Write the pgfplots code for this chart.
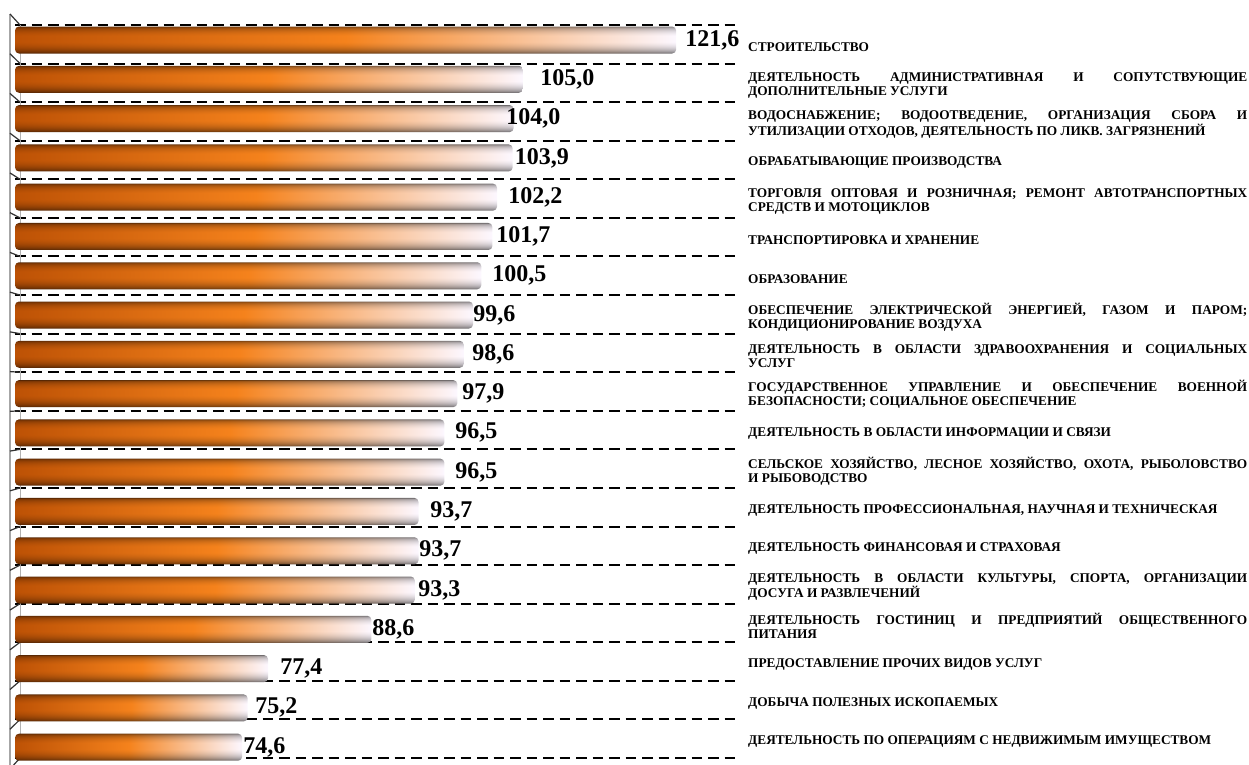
\documentclass[border=0pt]{standalone}
\usepackage{fontspec}
\setmainfont{Liberation Serif}
\usepackage{pgfplots}
\usepackage{pgfplotstable}
\pgfplotsset{compat=1.18}

\pgfdeclarefunctionalshading{cyl}{\pgfpoint{0bp}{0bp}}{\pgfpoint{100bp}{100bp}}{}{
  25 sub 50 div
  dup 0 lt {pop 0} if dup 1 gt {pop 1} if
  dup 180 mul sin abs sqrt 0.64 mul 0.30 add exch 0.15 mul add
  dup 1 gt {pop 1} if
  exch
  25 sub 50 div
  dup 0 lt {pop 0} if dup 1 gt {pop 1} if
  dup 0.5 lt
   { 2 mul dup 0.22 mul 0.74 add exch dup 0.19 mul 0.32 add exch 0.09 mul 0.02 add }
   { 2 mul 1 sub dup 0.03 mul 0.96 add exch dup 0.46 mul 0.51 add exch 0.89 mul 0.11 add }
  ifelse
  4 -1 roll
  dup 5 -1 roll mul
  4 1 roll
  dup 4 -1 roll mul
  3 1 roll
  mul
}

\newcommand\labfont{\bfseries\fontsize{13.3}{14}\selectfont\tolerance=9999 }
\newcommand\valfont{\bfseries\fontsize{24}{26}\selectfont}

\pgfplotstableread{
y v lx lab
-0.110 121.6 122.57 121,6
0.908 105.0 106.88 105,0
1.927 104.0 103.20 104,0
2.945 103.9 104.10 103,9
3.963 102.2 103.41 102,2
4.982 101.7 102.12 101,7
6.000 100.5 101.68 100,5
7.018 99.6 99.62 99,6
8.036 98.6 99.52 98,6
9.055 97.9 98.43 97,9
10.073 96.5 97.68 96,5
11.091 96.5 97.68 96,5
12.110 93.7 94.97 93,7
13.128 93.7 93.77 93,7
14.146 93.3 93.67 93,3
15.165 88.6 88.67 88,6
16.183 77.4 78.72 77,4
17.201 75.2 76.01 75,2
18.220 74.6 74.71 74,6
}\datatable

\begin{document}
\begin{tikzpicture}
\useasboundingbox (-15pt,-6pt) rectangle (1234pt,758pt);
\begin{axis}[
  at={(0,0)}, anchor=south west,
  x=9.234pt, y=38.58pt,
  xmin=0, xmax=78.3,
  ymin=-0.5, ymax=18.5,
  y dir=reverse,
  clip=false,
  axis line style={draw=none},
  xtick=\empty,
  ytick={0,1,...,18},
  minor ytick={-0.5,0.5,...,18.5},
  yminorgrids=true,
  minor grid style={black, line width=2pt, dash pattern=on 10.5pt off 6pt},
  major tick length=0pt, minor tick length=0pt,
  yticklabel pos=right,
  yticklabels={
    {СТРОИТЕЛЬСТВО},
    {ДЕЯТЕЛЬНОСТЬ АДМИНИСТРАТИВНАЯ И СОПУТСТВУЮЩИЕ\linebreak ДОПОЛНИТЕЛЬНЫЕ УСЛУГИ},
    {ВОДОСНАБЖЕНИЕ; ВОДООТВЕДЕНИЕ, ОРГАНИЗАЦИЯ СБОРА И\linebreak УТИЛИЗАЦИИ ОТХОДОВ, ДЕЯТЕЛЬНОСТЬ ПО ЛИКВ. ЗАГРЯЗНЕНИЙ},
    {ОБРАБАТЫВАЮЩИЕ ПРОИЗВОДСТВА},
    {ТОРГОВЛЯ ОПТОВАЯ И РОЗНИЧНАЯ; РЕМОНТ АВТОТРАНСПОРТНЫХ\linebreak СРЕДСТВ И МОТОЦИКЛОВ},
    {ТРАНСПОРТИРОВКА И ХРАНЕНИЕ},
    {ОБРАЗОВАНИЕ},
    {ОБЕСПЕЧЕНИЕ ЭЛЕКТРИЧЕСКОЙ ЭНЕРГИЕЙ, ГАЗОМ И ПАРОМ;\linebreak КОНДИЦИОНИРОВАНИЕ ВОЗДУХА},
    {ДЕЯТЕЛЬНОСТЬ В ОБЛАСТИ ЗДРАВООХРАНЕНИЯ И СОЦИАЛЬНЫХ\linebreak УСЛУГ},
    {ГОСУДАРСТВЕННОЕ УПРАВЛЕНИЕ И ОБЕСПЕЧЕНИЕ ВОЕННОЙ\linebreak БЕЗОПАСНОСТИ; СОЦИАЛЬНОЕ ОБЕСПЕЧЕНИЕ},
    {ДЕЯТЕЛЬНОСТЬ В ОБЛАСТИ ИНФОРМАЦИИ И СВЯЗИ},
    {СЕЛЬСКОЕ ХОЗЯЙСТВО, ЛЕСНОЕ ХОЗЯЙСТВО, ОХОТА, РЫБОЛОВСТВО\linebreak И РЫБОВОДСТВО},
    {ДЕЯТЕЛЬНОСТЬ ПРОФЕССИОНАЛЬНАЯ, НАУЧНАЯ И ТЕХНИЧЕСКАЯ},
    {ДЕЯТЕЛЬНОСТЬ ФИНАНСОВАЯ И СТРАХОВАЯ},
    {ДЕЯТЕЛЬНОСТЬ В ОБЛАСТИ КУЛЬТУРЫ, СПОРТА, ОРГАНИЗАЦИИ\linebreak ДОСУГА И РАЗВЛЕЧЕНИЙ},
    {ДЕЯТЕЛЬНОСТЬ ГОСТИНИЦ И ПРЕДПРИЯТИЙ ОБЩЕСТВЕННОГО\linebreak ПИТАНИЯ},
    {ПРЕДОСТАВЛЕНИЕ ПРОЧИХ ВИДОВ УСЛУГ},
    {ДОБЫЧА ПОЛЕЗНЫХ ИСКОПАЕМЫХ},
    {ДЕЯТЕЛЬНОСТЬ ПО ОПЕРАЦИЯМ С НЕДВИЖИМЫМ ИМУЩЕСТВОМ}
  },
  yticklabel style={anchor=west, inner sep=0pt, xshift=10pt, yshift=-3pt, text width=499pt, align=justify, font=\labfont},
]
% 3D wall edges
\draw[gray!60, line width=0.8pt] ([xshift=5pt]axis cs:0,-0.5) -- ([xshift=5pt]axis cs:0,18.5);
\draw[gray!70, line width=1.4pt] ([xshift=-5pt,yshift=11pt]axis cs:0,-0.5) -- ([xshift=-5pt,yshift=-11pt]axis cs:0,18.5);
\pgfplotsinvokeforeach{-0.5,0.5,...,18.5}{
  \draw[black!80, line width=1.2pt] ([xshift=5pt]axis cs:0,#1) -- ++(-10pt,{-0.03*(25+(#1+0.5)*38.58-392)*1pt});
}
\pgfplotsinvokeforeach{0,...,18}{
  \addplot[xbar, bar shift=0pt, bar width=27pt, draw=none, shading=cyl, rounded corners=4pt,
    x filter/.expression={\coordindex==#1 ? x : nan}]
    table[x expr=\thisrow{v}-50, y=y] {\datatable};
}
\addplot[draw=none, mark=none, nodes near coords, point meta=explicit symbolic,
  nodes near coords align={horizontal},
  nodes near coords style={anchor=west, inner sep=0pt, font=\valfont, text=black}]
  table[x expr=\thisrow{lx}-50, y=y, meta=lab] {\datatable};
\end{axis}
\end{tikzpicture}
\end{document}
